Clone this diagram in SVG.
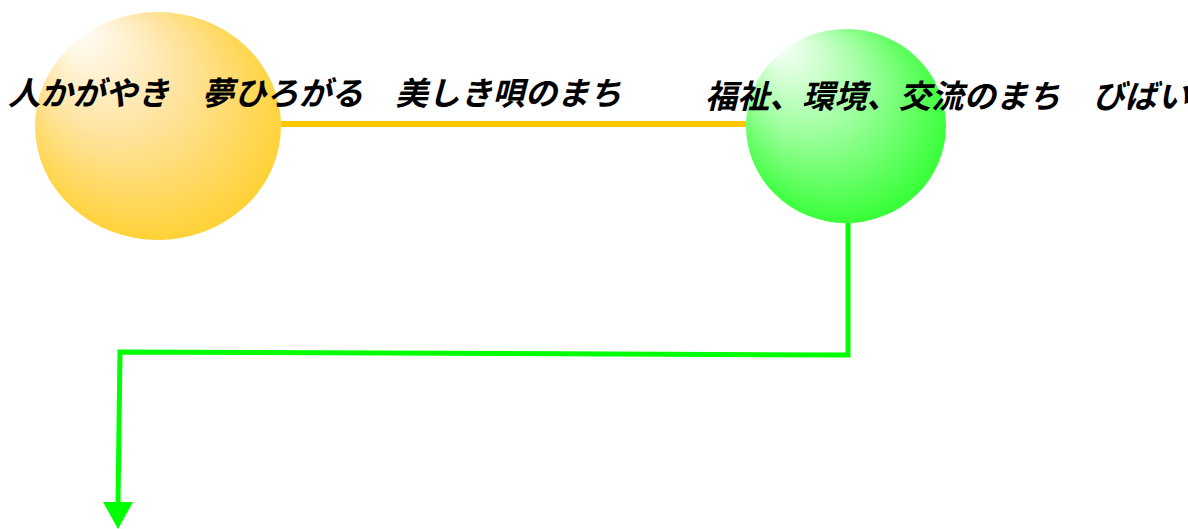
<svg xmlns="http://www.w3.org/2000/svg" width="1188" height="529" viewBox="0 0 1188 529">
<style>
.lbl{font-family:"Noto Sans CJK JP","Noto Sans",sans-serif;font-size:32.3px;font-weight:bold;font-style:italic;fill:#000}
.conn{fill:none;stroke-linejoin:miter}
</style>
<defs>
<radialGradient id="gOrange" cx="0.55" cy="0.55" r="0.7" fx="0.15" fy="0.05">
<stop offset="0" stop-color="#FFFFFF"/>
<stop offset="0.4" stop-color="#FFE4A0"/>
<stop offset="1" stop-color="#FFC800"/>
</radialGradient>
<radialGradient id="gGreen" cx="0.55" cy="0.55" r="0.7" fx="0.15" fy="0.05">
<stop offset="0" stop-color="#FFFFFF"/>
<stop offset="0.4" stop-color="#A0FFA0"/>
<stop offset="1" stop-color="#00FF00"/>
</radialGradient>
</defs>
<g id="connectors">
<line class="conn" x1="281" y1="124" x2="746" y2="124" stroke="#FFC800" stroke-width="6"/>
<path class="conn" d="M848,222 L848,355 L120,352 L118,502" stroke="#00FF00" stroke-width="5"/>
<path d="M103,502 L133,502 L118,529 Z" fill="#00FF00"/>
</g>
<g id="node-orange">
<ellipse cx="158" cy="126" rx="123" ry="114" fill="url(#gOrange)"/>
</g>
<g id="node-green">
<ellipse cx="846" cy="126" rx="100" ry="97" fill="url(#gGreen)"/>
</g>
<g id="labels">
<text class="lbl" x="8" y="105">人かがやき　夢ひろがる　美しき唄のまち</text>
<text class="lbl" x="705" y="108">福祉、環境、交流のまち　びばい</text>
</g>
</svg>
